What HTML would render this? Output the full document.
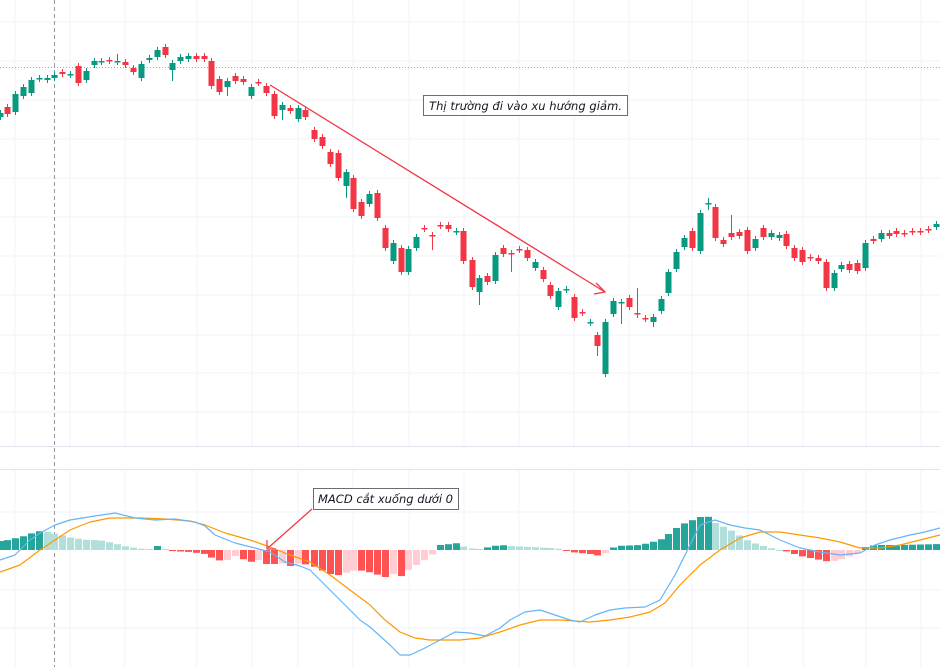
<!DOCTYPE html>
<html><head><meta charset="utf-8"><style>
html,body{margin:0;padding:0;background:#fff;width:940px;height:667px;overflow:hidden}
svg{display:block}
</style></head><body>
<svg id="s" width="940" height="667" xmlns="http://www.w3.org/2000/svg"></svg>
<script>
const S=document.getElementById('s');let h='';
const G='#089981',R='#f23645';
[22,61,100,139,178,217,256,295,335,373,412,512,590,628].forEach(y=>h+=`<line x1="0" x2="940" y1="${y}" y2="${y}" stroke="#f0f3fa" stroke-width="1"/>`);
[15,70,125,197,252,298,353,409,464,519,574,629,692,748,803,866,921].forEach(x=>h+=`<line x1="${x}" x2="${x}" y1="0" y2="667" stroke="#f0f3fa" stroke-width="1"/>`);
h+=`<rect x="0" y="446" width="940" height="24" fill="#fff"/>`;
h+=`<line x1="0" x2="940" y1="446.5" y2="446.5" stroke="#e0e3eb"/><line x1="0" x2="940" y1="469.5" y2="469.5" stroke="#e0e3eb"/>`;
h+=`<line x1="54.5" x2="54.5" y1="0" y2="667" stroke="#9598a1" stroke-dasharray="4,3"/>`;
h+=`<line x1="0" x2="940" y1="67.5" y2="67.5" stroke="#f23645" stroke-opacity="0.6" stroke-dasharray="1,2"/>`;
const C=[[0,117,113],[7,107,114],[15,112,94],[23,96,87],[31,93,80],[39,79,78],[47,80,78],[54,78,75],[62,72,74],[70,75,74],[78,66,83],[86,80,71],[94,65,61],[101,62,61],[109,60,61],[117,62,61],[125,62,65],[133,68,72],[141,78,64],[149,60,58],[157,57,50],[165,47,55],[172,70,63],[180,61,57],[188,59,56],[196,56,59],[204,56,59],[211,61,86],[219,79,92],[227,87,81],[235,76,81],[243,79,82],[251,96,87],[258,82,83],[266,86,93],[274,94,116],[282,110,105],[290,108,111],[298,119,108],[305,110,117],[314,130,139],[322,137,146],[330,152,164],[338,153,178],[346,186,172],[353,178,209],[361,202,216],[369,204,194],[377,193,218],[385,228,248],[393,261,243],[401,248,272],[408,272,249],[416,248,237],[424,228,229],[432,235,236],[440,225,226],[448,225,229],[456,232,231],[463,231,261],[472,260,287],[479,292,278],[487,276,282],[495,281,255],[503,248,254],[511,253,254],[519,249,250],[527,250,258],[535,268,262],[543,270,279],[550,285,296],[558,307,291],[566,290,289],[574,297,318],[582,312,313],[590,323,322],[597,335,346],[605,374,322],[613,314,301],[621,303,302],[629,298,307],[637,313,314],[645,318,319],[653,322,317],[661,311,299],[668,293,272],[676,269,252],[684,247,238],[692,231,248],[700,251,213],[708,204,203],[715,207,238],[723,240,244],[731,233,237],[739,232,236],[747,230,251],[755,248,239],[763,228,237],[771,237,233],[779,238,235],[786,234,246],[794,248,258],[802,250,262],[810,257,258],[818,258,261],[826,262,288],[834,288,273],[841,269,265],[849,264,270],[857,263,271],[865,268,243],[873,239,241],[881,239,233],[889,233,236],[896,231,234],[904,233,234],[912,231,232],[920,231,232],[928,229,230],[936,227,224]];
const wickExtra={172:[63,81],117:[54,64],227:[81,96],282:[105,120],346:[172,198],479:[278,305],511:[253,272],432:[235,250],621:[302,324],637:[288,318],653:[317,327],731:[215,237],708:[198,210],165:[44,55],558:[288,307],597:[335,356]};
C.forEach(([x,o,c])=>{const col=c<=o?G:R;const t=Math.min(o,c),b=Math.max(o,c);let hi=t-3,lo=b+3;if(wickExtra[x]){hi=Math.min(hi,wickExtra[x][0]);lo=Math.max(lo,wickExtra[x][1]);}
h+=`<line x1="${x+0.5}" x2="${x+0.5}" y1="${hi}" y2="${lo}" stroke="${col}"/><rect x="${x-2.5}" y="${t}" width="6" height="${Math.max(b-t,1.5)}" fill="${col}"/>`;});
h+=`<line x1="270" y1="85" x2="605" y2="292" stroke="#f23645" stroke-width="1.3"/><polyline points="596,283 605,292 594,294" fill="none" stroke="#f23645" stroke-width="1.3"/>`;
h+=`<rect x="423.5" y="95.5" width="204" height="20" fill="#fff" stroke="#6a6d78"/><text x="429" y="110" font-family="DejaVu Sans,Liberation Sans,sans-serif" font-style="italic" font-size="11.5" textLength="193" fill="#131722">Thị trường đi vào xu hướng giảm.</text>`;
function interp(P,x){for(let i=0;i<P.length-1;i++){if(x>=P[i][0]&&x<=P[i+1][0]){const t=(x-P[i][0])/(P[i+1][0]-P[i][0]);return P[i][1]+t*(P[i+1][1]-P[i][1]);}}return P[P.length-1][1];}
const Z=550;
const HP=[[0,541],[8,540],[16,538],[24,536],[32,533],[40,531],[48,532],[56,534],[64,536],[72,538],[80,539],[88,540],[96,540],[104,541],[112,543],[120,545],[128,547],[136,548],[144,549],[152,549],[157,546],[165,549],[170,551],[190,552],[205,554],[215,560],[225,561],[235,556],[250,562],[258,560],[268,565],[280,563],[290,566],[300,563],[315,567],[325,572],[335,576],[345,573],[355,570],[365,571],[385,577],[395,573],[400,577],[410,568],[420,563],[430,556],[435,552],[440,545],[450,544],[458,543],[465,548],[480,549],[493,546],[500,545],[510,546],[530,547],[550,548],[560,549],[570,552],[590,554],[600,556],[607,552],[615,546],[640,545],[660,540],[680,525],[700,517],[706,515],[715,523],[730,530],[750,542],[770,548],[785,551],[800,556],[820,560],[830,562],[845,558],[860,552],[866,546],[880,545],[900,545],[940,544]];
let prev=null;
C.forEach(([x])=>{const y=interp(HP,x);const v=Z-y;let col;
 if(v>=0){col=(prev===null||v>=prev)?'#26a69a':'#b2dfdb';}else{col=(prev===null||v<=prev)?'#ff5252':'#ffcdd2';}
 prev=v;const t=Math.min(y,Z),b=Math.max(y,Z);h+=`<rect x="${x-3}" y="${t}" width="7" height="${Math.max(b-t,1)}" fill="${col}"/>`;});
const BL=[[0,560],[15,555],[30,540],[40,533],[55,525],[70,520],[95,516],[115,513],[135,518],[155,520],[175,519],[195,522],[205,526],[215,535],[235,543],[255,548],[270,552],[285,562],[300,566],[310,570],[320,580],[335,595],[345,605],[360,620],[370,627],[390,645],[400,655],[410,655],[425,648],[440,640],[455,632],[470,633],[485,636],[500,628],[510,620],[525,612],[540,610],[555,615],[570,620],[580,622],[595,615],[610,610],[625,608],[645,607],[660,600],[675,575],[690,545],[700,525],[715,520],[730,525],[745,528],[760,530],[780,540],[800,548],[820,552],[840,555],[860,553],[875,545],[890,540],[910,535],[925,532],[940,528]];
const OR=[[0,572],[20,565],[40,550],[55,540],[70,530],[90,522],[110,518],[125,518],[140,518],[165,519],[190,521],[205,525],[225,533],[250,540],[270,547],[290,555],[310,562],[330,575],[350,590],[370,605],[385,620],[400,632],[415,638],[430,640],[460,640],[480,638],[500,632],[520,625],[540,620],[560,620],[590,622],[610,620],[630,617],[650,612],[665,603],[680,585],[700,565],[720,550],[740,538],[760,532],[780,532],[800,535],[820,538],[840,542],[860,548],[880,548],[900,545],[920,540],[940,535]];
const pl=(P,c)=>`<polyline fill="none" stroke="${c}" stroke-width="1.2" stroke-linejoin="round" points="${P.map(p=>p.join(',')).join(' ')}"/>`;
h+=pl(OR,'#ff9800')+pl(BL,'#64b5f6');
h+=`<line x1="312" y1="509" x2="268" y2="548" stroke="#f23645" stroke-width="1.2"/><polyline points="267,540 267,549 276,549" fill="none" stroke="#f23645" stroke-width="1.2"/>`;
h+=`<rect x="313.5" y="488.5" width="145" height="21" fill="#fff" stroke="#6a6d78"/><text x="318" y="503" font-family="DejaVu Sans,Liberation Sans,sans-serif" font-style="italic" font-size="11.5" textLength="135" fill="#131722">MACD cắt xuống dưới 0</text>`;
S.innerHTML=h;
</script>
</body></html>
